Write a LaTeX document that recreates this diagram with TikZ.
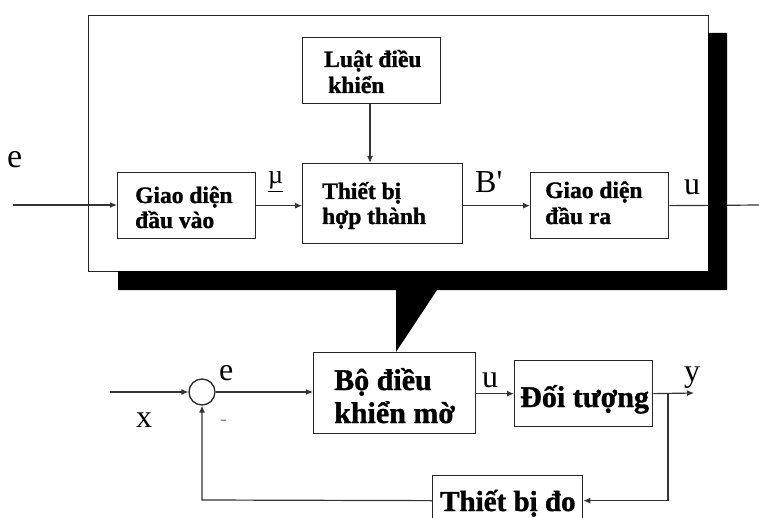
\documentclass[tikz,border=0pt]{standalone}
\usepackage{fontspec}
\setmainfont{Liberation Serif}
\newfontfamily\boxfont[FakeBold=1.2]{Liberation Serif Bold}
\newcommand{\straightquote}{{\XeTeXglyph\XeTeXglyphindex "quotesingle"\relax}}
\usetikzlibrary{arrows.meta}
\begin{document}
\begin{tikzpicture}[x=1pt,y=-1pt,
  box/.style={draw=black!85,line width=1.3pt,rectangle,inner sep=0pt,anchor=north west},
  wire/.style={draw=black!80,line width=1.2pt},
  arr/.style={wire,-{Latex[length=7pt,width=6pt]}},
  btxt/.style={font=\fontsize{23.5}{26}\boxfont,anchor=base west,inner sep=0pt},
  bigtxt/.style={font=\fontsize{30}{33}\boxfont,anchor=base west,inner sep=0pt},
  sig/.style={font=\fontsize{32}{36}\selectfont,anchor=base west,inner sep=0pt}]
\useasboundingbox (0,0) rectangle (759,518);
\clip (0,0) rectangle (759,518);

% outer frame of the fuzzy controller detail
\node[box,fill=white,minimum width=620pt,minimum height=256pt] (frame) at (88,15) {};

% inner blocks
\node[box,minimum width=138pt,minimum height=66pt] (gdv) at (117,172) {};
\node[box,minimum width=138pt,minimum height=66pt] (luat) at (302,37) {};
\node[box,minimum width=160pt,minimum height=80pt] (tbht) at (302,163) {};
\node[box,minimum width=138pt,minimum height=66pt] (gdr) at (530,172) {};

\node[btxt] (t1a) at (135,203) {Giao diện};
\node[btxt] (t1b) at (135,228) {đầu vào};
\node[btxt] (t2a) at (324,67) {Luật điều};
\node[btxt] (t2b) at (328,93) {khiển};
\node[btxt] (t3a) at (322,199) {Thiết bị};
\node[btxt] (t3b) at (322,224) {hợp thành};
\node[btxt] (t4a) at (545,198) {Giao diện};
\node[btxt] (t4b) at (545,224) {đầu ra};

% signals inside the frame
\coordinate (ein) at (13,205);
\coordinate (uout) at (762,205);
\draw[arr] (ein) -- (ein -| gdv.west);
\draw[arr] (gdv.east) -- (gdv.east -| tbht.west);
\draw[arr] (luat.south -| 370,0) -- (tbht.north -| 370,0);
\draw[arr] (tbht.east |- gdr.west) -- (gdr.west);
\draw[wire] (gdr.east) -- (uout);

\node[sig,font=\fontsize{34}{38}\selectfont] (le1) at (7,168) {e};
\node[sig,font=\fontsize{26}{30}\selectfont] (lmu) at (268,184) {\underline{µ}};
\node[sig] (lb) at (475,193) {B\straightquote};
\node[sig] (lu1) at (684,195) {u};

% drop shadow with the callout wedge
\fill[black] (708,33) -- (727,33) -- (727,290) -- (437,290) -- (396,352)
  -- (396,290) -- (118,290) -- (118,271) -- (708,271) -- cycle;

% closed loop
\node[draw=black!85,line width=1.3pt,circle,minimum size=26pt,inner sep=0pt] (sum) at (202,392) {};
\node[box,minimum width=162pt,minimum height=81pt] (bo) at (313,352) {};
\node[box,minimum width=138pt,minimum height=66pt] (dt) at (514,360) {};
\node[box,minimum width=150pt,minimum height=50pt] (tbdo) at (432,475) {};

\node[bigtxt] (t5a) at (334,390) {Bộ điều};
\node[bigtxt] (t5b) at (334,423) {khiển mờ};
\node[bigtxt] (t6) at (520,407) {Đối tượng};
\node[bigtxt,font=\fontsize{29}{32}\boxfont] (t7) at (440,511) {Thiết bị đo};

\coordinate (xin) at (110,392);
\coordinate (yout) at (694,393);
\coordinate (br) at (668,393);
\coordinate (fb) at (202,500);
\draw[arr] (xin) -- (sum.west);
\draw[arr] (sum.east) -- (sum.east -| bo.west);
\draw[arr] (bo.east |- dt.west) -- (dt.west);
\draw[arr] (dt.east) -- (yout);
\draw[arr] (br) |- (tbdo.east);
\draw[arr] (tbdo.west) -- (fb) -- (sum.south);

\node[sig] (le2) at (219,380) {e};
\node[sig] (lx) at (136,427) {x};
\node[sig,text=black!45,font=\fontsize{20}{24}\selectfont] (lm) at (220,425) {-};
\node[sig] (lu2) at (482,387) {u};
\node[sig] (ly) at (684,381) {y};
\end{tikzpicture}
\end{document}
